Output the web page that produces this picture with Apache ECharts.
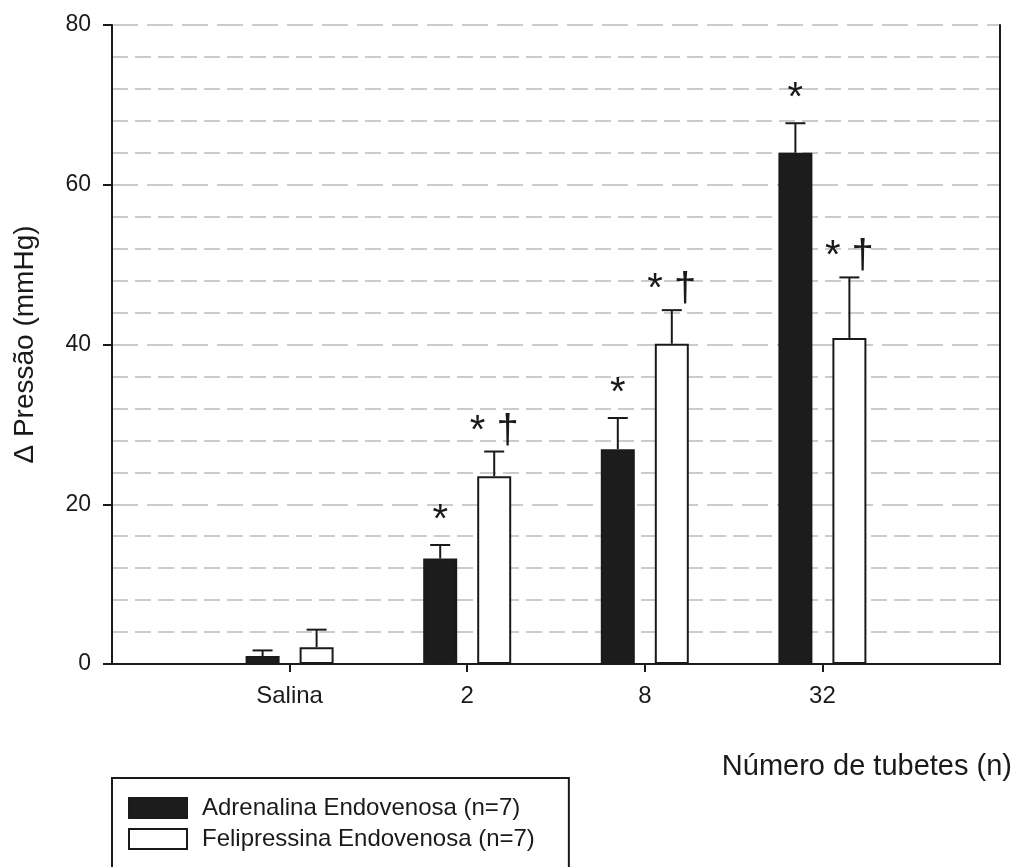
<!DOCTYPE html>
<html>
<head>
<meta charset="utf-8">
<script src="https://cdn.jsdelivr.net/npm/echarts@6/dist/echarts.min.js"></script>
<style>
  html, body { margin: 0; padding: 0; background: #ffffff; }
  #chart { width: 1018px; height: 867px; }
</style>
</head>
<body>
<div id="chart"></div>
<script>
// ---- data ----
const categories = ['Salina', '2', '8', '32'];
const seriesNames = ['Adrenalina Endovenosa (n=7)', 'Felipressina Endovenosa (n=7)'];
const adrenMean = [1.0, 13.2, 26.9, 64.0];
const adrenErr  = [0.7, 1.7, 3.9, 3.7];
const feliMean  = [2.1, 23.5, 40.1, 40.8];
const feliErr   = [2.2, 3.1, 4.2, 7.6];
const adrenMarks = ['', '*', '*', '*'];
const feliMarks  = ['', '* \u2020', '* \u2020', '* \u2020'];
const yMin = 0, yMax = 80, yInterval = 20;
const yTitle = '\u0394 Press\u00e3o (mmHg)';
const xTitle = 'N\u00famero de tubetes (n)';

// ---- styling constants ----
const FONT = '"Liberation Sans", Arial, sans-serif';
const INK = '#1a1a1a';
const BAR_W = 34;
const BAR_GAP_PX = 20;
const HALF_STEP = (BAR_W + BAR_GAP_PX) / 2;

// axis categories padded with empty slots on both ends
const axisCats = [''].concat(categories, ['']);
function padded(arr) { return ['-'].concat(arr, ['-']); }

function errData(mean, err) {
  return mean.map((m, i) => [i + 1, m, m + err[i]]);
}

function makeErrSeries(name, mean, err, marks, offset, markLift) {
  return {
    type: 'custom',
    name: name + ' err',
    z: 5,
    silent: true,
    data: errData(mean, err),
    renderItem: function (params, api) {
      const x = api.value(0);
      const base = api.coord([x, api.value(1)]);
      const top = api.coord([x, api.value(2)]);
      const cx = base[0] + offset;
      const children = [
        { type: 'line', shape: { x1: cx, y1: base[1], x2: cx, y2: top[1] },
          style: { stroke: INK, lineWidth: 2 } },
        { type: 'line', shape: { x1: cx - 10, y1: top[1], x2: cx + 10, y2: top[1] },
          style: { stroke: INK, lineWidth: 2 } }
      ];
      const mark = marks[params.dataIndex];
      if (mark) {
        children.push({
          type: 'text', x: cx, y: top[1] - markLift,
          style: { text: mark, fill: INK, font: '40px ' + FONT,
                   align: 'center', verticalAlign: 'bottom' }
        });
      }
      return { type: 'group', children: children };
    }
  };
}

const chart = echarts.init(document.getElementById('chart'), null, { renderer: 'canvas' });

const frameAxisX = {
  type: 'category', data: axisCats, boundaryGap: false, position: 'top',
  axisLine: { show: true, lineStyle: { color: INK, width: 2 } },
  axisTick: { show: false }, axisLabel: { show: false }, splitLine: { show: false }
};
const frameAxisY = {
  type: 'value', min: yMin, max: yMax, interval: yInterval, position: 'right',
  axisLine: { show: true, lineStyle: { color: INK, width: 2 } },
  axisTick: { show: false }, axisLabel: { show: false }, splitLine: { show: false }
};

const option = {
  animation: false,
  backgroundColor: '#ffffff',
  textStyle: { fontFamily: FONT, color: INK },
  grid: {
    left: 112, right: 18, top: 25, bottom: 203,
    outerBoundsMode: 'none', containLabel: false
  },
  legend: {
    orient: 'vertical',
    left: 112, top: 778, height: 160,
    padding: [18, 34, 40, 16],
    borderColor: INK, borderWidth: 2,
    itemWidth: 58, itemHeight: 20, itemGap: 7,
    icon: 'rect',
    data: seriesNames,
    textStyle: { fontFamily: FONT, fontSize: 24, color: INK, lineHeight: 24, padding: [0, 0, 0, 10] }
  },
  xAxis: [{
    type: 'category',
    data: axisCats,
    boundaryGap: false,
    axisLine: { show: true, lineStyle: { color: INK, width: 2 } },
    axisTick: {
      show: true, inside: false, length: 8,
      lineStyle: { color: INK, width: 2 },
      interval: function (index) { return index >= 1 && index <= categories.length; }
    },
    axisLabel: {
      fontFamily: FONT, fontSize: 24, color: INK, margin: 20,
      interval: function (index) { return index >= 1 && index <= categories.length; }
    },
    splitLine: { show: false },
    name: xTitle,
    nameLocation: 'end',
    nameGap: 12,
    nameTextStyle: {
      fontFamily: FONT, fontSize: 29, color: INK,
      align: 'right', verticalAlign: 'top', padding: [88, 0, 0, 0]
    }
  }, frameAxisX],
  yAxis: [{
    type: 'value',
    min: yMin, max: yMax, interval: yInterval,
    axisLine: { show: true, lineStyle: { color: INK, width: 2 } },
    axisTick: { show: true, inside: false, length: 9, lineStyle: { color: INK, width: 2 } },
    axisLabel: { fontFamily: FONT, fontSize: 23, color: INK, margin: 21 },
    splitLine: { show: true, lineStyle: { color: '#cccccc', width: 2, type: [26, 9] } },
    minorTick: { show: false, splitNumber: 5 },
    minorSplitLine: { show: true, lineStyle: { color: '#cccccc', width: 2, type: [16, 7] } },
    name: yTitle,
    nameLocation: 'middle',
    nameGap: 73,
    nameRotate: 90,
    nameTextStyle: { fontFamily: FONT, fontSize: 28, color: INK }
  }, frameAxisY],
  series: [
    {
      type: 'bar',
      name: seriesNames[0],
      data: padded(adrenMean),
      barWidth: BAR_W,
      barGap: (BAR_GAP_PX / BAR_W * 100) + '%',
      itemStyle: { color: '#1c1c1c', borderColor: INK, borderWidth: 2 },
      z: 3
    },
    {
      type: 'bar',
      name: seriesNames[1],
      data: padded(feliMean),
      barWidth: BAR_W,
      barGap: (BAR_GAP_PX / BAR_W * 100) + '%',
      itemStyle: { color: '#ffffff', borderColor: INK, borderWidth: 2 },
      z: 3
    },
    makeErrSeries(seriesNames[0], adrenMean, adrenErr, adrenMarks, -HALF_STEP, 4),
    makeErrSeries(seriesNames[1], feliMean, feliErr, feliMarks, HALF_STEP, 0)
  ]
};

chart.setOption(option);
</script>
</body>
</html>
